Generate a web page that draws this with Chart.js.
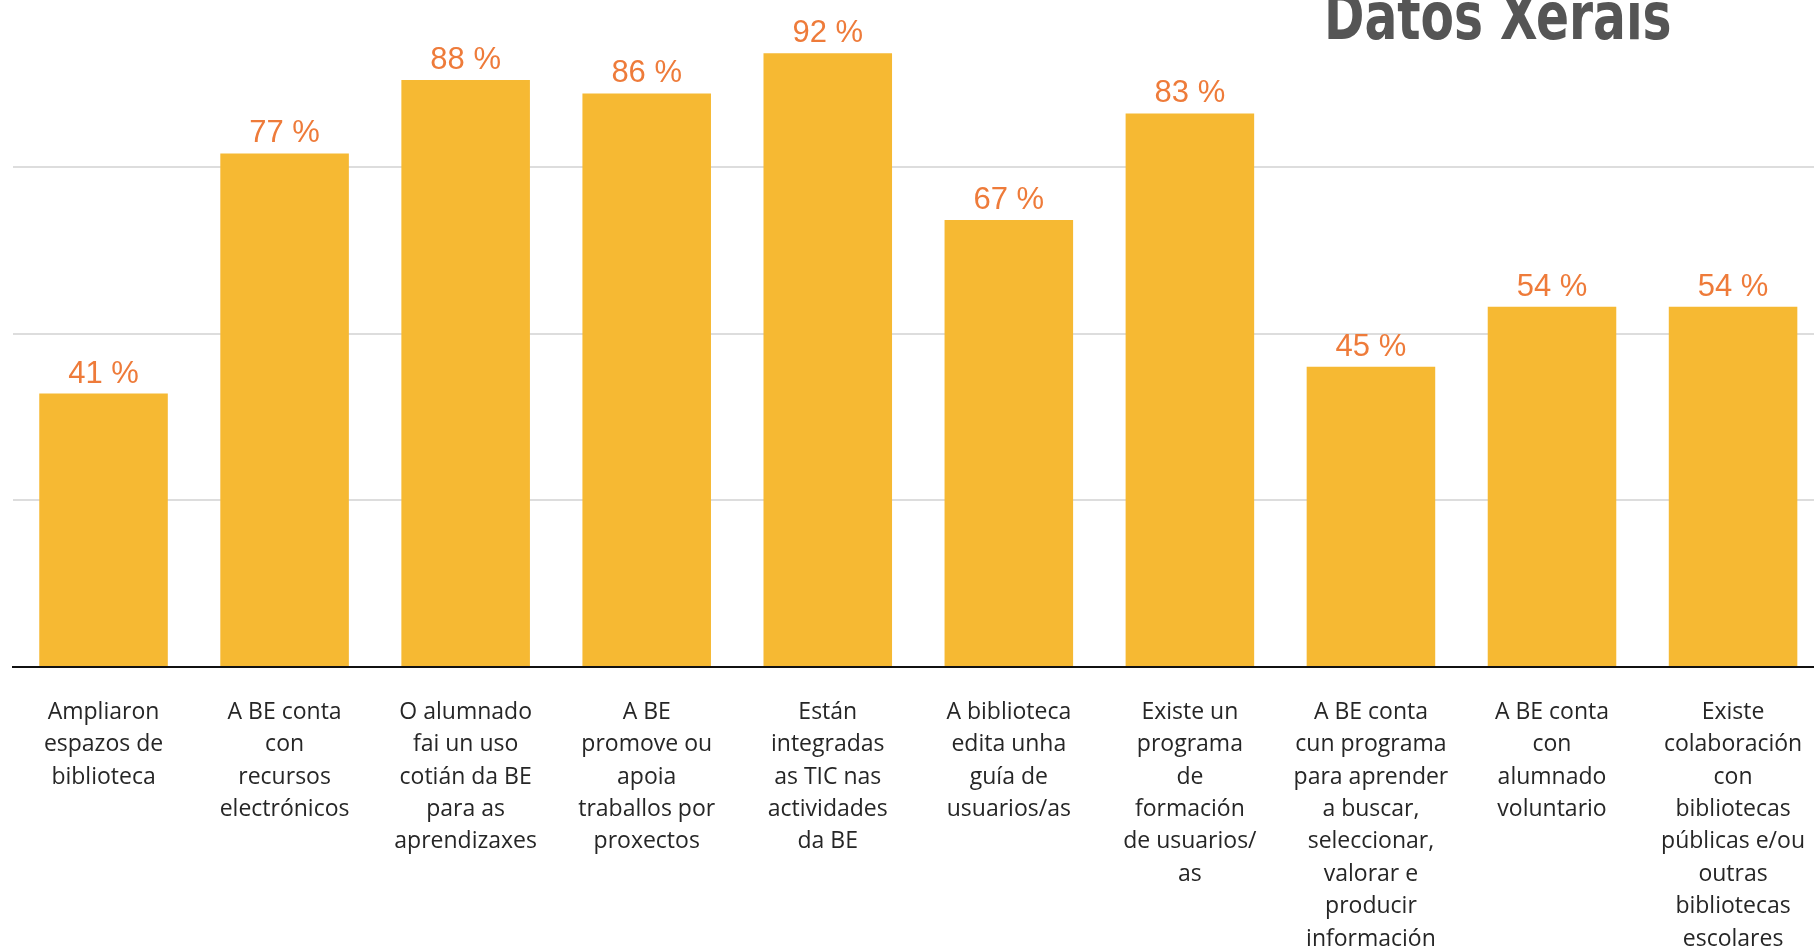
<!DOCTYPE html>
<html>
<head>
<meta charset="utf-8">
<script src="https://cdn.jsdelivr.net/npm/chart.js@4.4.1/dist/chart.umd.min.js"></script>
<style>
  html, body { margin: 0; padding: 0; background: #fff; overflow: hidden; }
  #wrap { position: relative; width: 1826px; height: 967px; }
  #title {
    position: absolute; left: 1324px; top: -22px;
    font-family: "DejaVu Sans Condensed", "DejaVu Sans", sans-serif;
    font-weight: bold; font-size: 66px; color: #555;
    transform-origin: left top; transform: scaleX(0.82);
    white-space: nowrap; z-index: 2;
  }
</style>
</head>
<body>
<div id="wrap">
  <div id="title">Datos Xerais</div>
  <canvas id="chart"></canvas>
</div>
<script>
// ── Data ───────────────────────────────────────────────────────────────
const categories = [
  ['Ampliaron', 'espazos de', 'biblioteca'],
  ['A BE conta', 'con', 'recursos', 'electrónicos'],
  ['O alumnado', 'fai un uso', 'cotián da BE', 'para as', 'aprendizaxes'],
  ['A BE', 'promove ou', 'apoia', 'traballos por', 'proxectos'],
  ['Están', 'integradas', 'as TIC nas', 'actividades', 'da BE'],
  ['A biblioteca', 'edita unha', 'guía de', 'usuarios/as'],
  ['Existe un', 'programa', 'de', 'formación', 'de usuarios/', 'as'],
  ['A BE conta', 'cun programa', 'para aprender', 'a buscar,', 'seleccionar,', 'valorar e', 'producir', 'información'],
  ['A BE conta', 'con', 'alumnado', 'voluntario'],
  ['Existe', 'colaboración', 'con', 'bibliotecas', 'públicas e/ou', 'outras', 'bibliotecas', 'escolares'],
];
const percentages = [41, 77, 88, 86, 92, 67, 83, 45, 54, 54];
const gridTicks   = [0, 25, 50, 75, 100];

// ── Value labels above bars ────────────────────────────────────────────
const valueLabels = {
  id: 'valueLabels',
  afterDatasetsDraw(chart) {
    const ctx  = chart.ctx;
    const meta = chart.getDatasetMeta(0);
    ctx.save();
    ctx.font = '500 31px "Liberation Sans", Arial, sans-serif';
    ctx.fillStyle = '#EE7B3A';
    ctx.textAlign = 'center';
    ctx.textBaseline = 'alphabetic';
    meta.data.forEach((bar, i) => {
      ctx.fillText(percentages[i] + ' %', bar.x, bar.y - 11);
    });
    ctx.restore();
  },
};

new Chart(document.getElementById('chart'), {
  type: 'bar',
  data: {
    labels: categories,
    datasets: [{
      data: percentages,
      backgroundColor: '#F6B933',
      borderWidth: 0,
      categoryPercentage: 1,
      barPercentage: 0.71,
    }],
  },
  options: {
    responsive: true,
    maintainAspectRatio: false,
    animation: false,
    layout: { padding: 0 },
    plugins: { legend: { display: false }, tooltip: { enabled: false } },
    scales: {
      x: {
        afterFit(scale) { scale.height = 300; },
        grid: { display: false },
        border: { display: true, color: '#111', width: 2 },
        ticks: {
          color: '#262626',
          padding: 21,
          maxRotation: 0,
          autoSkip: false,
          font: { family: '"Open Sans", sans-serif', size: 23, weight: '500', lineHeight: 1.41 },
        },
      },
      y: {
        min: 0,
        max: 100,
        afterFit(scale) { scale.width = 13; },
        afterBuildTicks(scale) { scale.ticks = gridTicks.map(v => ({ value: v })); },
        ticks: { display: false },
        border: { display: false },
        grid: {
          drawTicks: false,
          lineWidth: 2,
          color: ctx => (ctx.tick.value === 100 || ctx.tick.value === 0) ? 'rgba(0,0,0,0)' : '#DDDDDD',
        },
      },
    },
  },
  plugins: [valueLabels],
});
</script>
</body>
</html>
